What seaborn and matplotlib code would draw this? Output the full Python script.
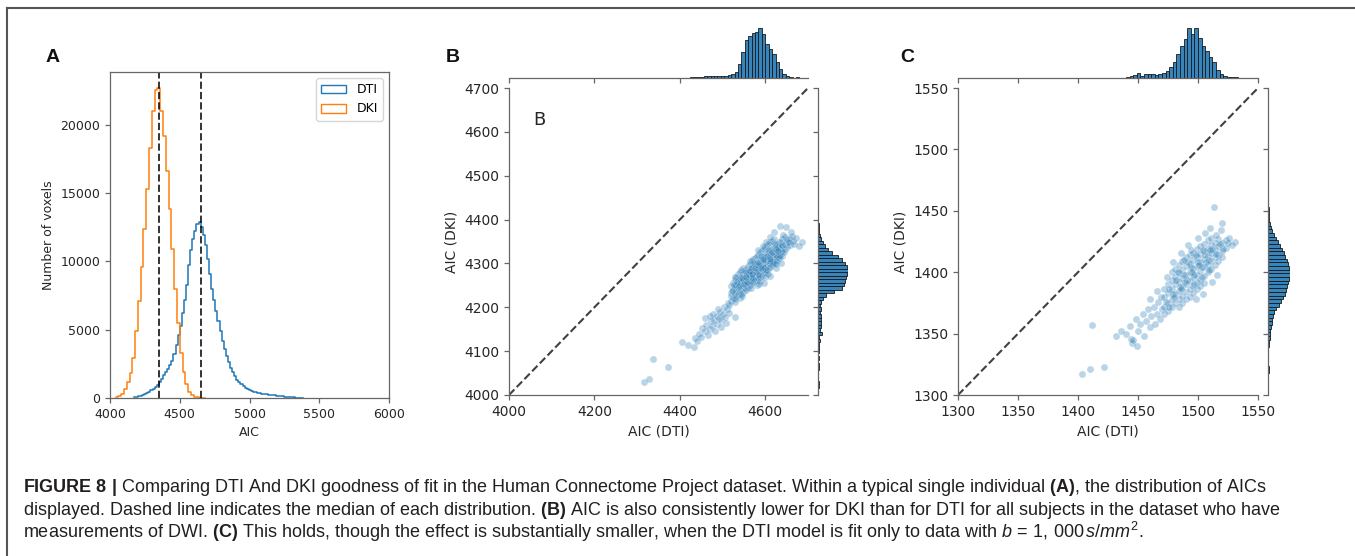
import numpy as np
import pandas as pd
import matplotlib
matplotlib.use("Agg")
import matplotlib.pyplot as plt
from matplotlib.lines import Line2D
from matplotlib.patches import Patch
import seaborn as sns

W, H = 1355, 556

# ---- panel A: voxel-wise AIC histograms (first bin edge, bin width, counts)
a_dti_start, a_dti_width = 4170, 15
a_dti_counts = [40, 70, 110, 160, 230, 300, 380, 470, 570, 660,
                800, 980, 1200, 1400, 1650, 1900, 2150, 2400, 2700, 3200,
                3900, 4600, 5300, 6200, 7200, 8300, 9700, 10800, 11600, 12200,
                12700, 12900, 12500, 11900, 11200, 10200, 9100, 8000, 7200, 6400,
                5600, 4900, 4200, 3600, 3100, 2600, 2200, 1900, 1600, 1350,
                1150, 1000, 860, 740, 650, 570, 510, 460, 420, 380,
                350, 320, 290, 270, 250, 230, 210, 190, 170, 150,
                130, 110, 90, 75, 60, 50, 40, 30, 20, 12,
                6]
a_dki_start, a_dki_width = 4040, 20
a_dki_counts = [40, 120, 300, 650, 1200, 1800, 2900, 4900, 7100, 9600,
                12400, 15300, 18300, 21000, 22500, 22700, 21000, 19200, 16600, 13800,
                10900, 8000, 5500, 3300, 1900, 1000, 450, 200, 90, 40,
                20, 8]
a_medians = [4650, 4350]  # DTI, DKI
a_xticks = [4000, 4500, 5000, 5500, 6000]
a_yticks = [0, 5000, 10000, 15000, 20000]

# ---- panel B: per-subject AIC (DTI, DKI)
b_points = [
    (4317, 4029), (4328, 4036), (4338, 4082), (4373, 4063),
    (4405, 4120), (4418, 4114), (4432, 4110), (4436, 4131), (4440, 4122),
    (4445, 4140), (4450, 4133), (4452, 4152), (4458, 4145), (4462, 4160),
    (4465, 4137), (4470, 4150), (4472, 4168), (4476, 4158), (4480, 4172),
    (4483, 4145), (4486, 4180), (4488, 4163), (4492, 4175), (4495, 4190),
    (4497, 4170), (4500, 4185), (4503, 4200), (4505, 4178), (4508, 4165),
    (4510, 4195), (4512, 4210), (4515, 4188), (4497, 4155), (4460, 4175),
    (4478, 4185), (4529, 4177), (4516, 4205), (4490, 4195), (4470, 4180),
    (4520, 4215), (4520, 4232), (4520, 4248), (4520, 4226),
    (4524, 4240), (4524, 4222), (4524, 4255),
    (4528, 4230), (4528, 4245), (4528, 4262), (4528, 4212),
    (4532, 4238), (4532, 4251), (4532, 4225), (4532, 4268),
    (4536, 4243), (4536, 4260), (4536, 4230), (4536, 4275),
    (4540, 4250), (4540, 4236), (4540, 4266), (4540, 4222), (4540, 4281),
    (4544, 4255), (4544, 4242), (4544, 4270), (4544, 4262),
    (4548, 4248), (4548, 4262), (4548, 4276), (4548, 4235), (4548, 4290),
    (4552, 4258), (4552, 4270), (4552, 4245), (4552, 4283),
    (4556, 4262), (4556, 4275), (4556, 4250), (4556, 4288), (4556, 4240),
    (4560, 4268), (4560, 4255), (4560, 4281), (4560, 4294), (4560, 4245),
    (4564, 4272), (4564, 4260), (4564, 4286), (4564, 4298), (4564, 4250),
    (4568, 4276), (4568, 4262), (4568, 4290), (4568, 4305), (4568, 4255),
    (4572, 4280), (4572, 4268), (4572, 4293), (4572, 4258), (4572, 4310),
    (4576, 4284), (4576, 4270), (4576, 4298), (4576, 4262), (4576, 4312),
    (4580, 4288), (4580, 4275), (4580, 4300), (4580, 4262), (4580, 4318), (4580, 4250),
    (4584, 4290), (4584, 4278), (4584, 4304), (4584, 4266), (4584, 4320),
    (4588, 4294), (4588, 4282), (4588, 4308), (4588, 4270), (4588, 4325), (4588, 4260),
    (4592, 4298), (4592, 4285), (4592, 4312), (4592, 4272), (4592, 4328),
    (4596, 4302), (4596, 4290), (4596, 4315), (4596, 4278), (4596, 4332),
    (4600, 4305), (4600, 4292), (4600, 4318), (4600, 4280), (4600, 4338), (4600, 4268),
    (4604, 4308), (4604, 4296), (4604, 4322), (4604, 4285), (4604, 4342),
    (4608, 4312), (4608, 4300), (4608, 4326), (4608, 4290), (4608, 4345),
    (4612, 4315), (4612, 4302), (4612, 4330), (4612, 4292), (4612, 4348),
    (4616, 4318), (4616, 4306), (4616, 4332), (4616, 4296), (4616, 4352),
    (4620, 4322), (4620, 4310), (4620, 4336), (4620, 4300), (4620, 4356),
    (4624, 4326), (4624, 4312), (4624, 4340), (4624, 4305),
    (4628, 4330), (4628, 4316), (4628, 4345), (4628, 4308),
    (4632, 4332), (4632, 4320), (4632, 4348), (4632, 4312),
    (4636, 4336), (4636, 4325), (4636, 4350),
    (4640, 4340), (4640, 4328), (4640, 4355), (4640, 4318),
    (4646, 4345), (4646, 4332), (4646, 4360),
    (4652, 4350), (4652, 4338), (4658, 4355), (4658, 4342),
    (4665, 4352), (4685, 4350),
    (4634, 4385), (4648, 4383), (4660, 4372), (4620, 4372), (4642, 4365),
    (4612, 4272), (4625, 4290), (4598, 4255), (4636, 4300),
    (4522, 4236), (4526, 4250), (4530, 4220), (4534, 4258), (4538, 4248),
    (4542, 4230), (4546, 4266), (4550, 4252), (4554, 4280), (4558, 4258),
    (4562, 4276), (4566, 4290), (4570, 4266), (4574, 4302), (4578, 4280),
    (4582, 4296), (4586, 4274), (4590, 4316), (4594, 4292), (4598, 4308),
    (4602, 4286), (4606, 4330), (4610, 4306), (4614, 4322), (4618, 4300),
    (4622, 4344), (4626, 4320), (4630, 4338), (4634, 4316), (4638, 4342),
    (4644, 4325), (4650, 4356), (4656, 4348), (4662, 4362), (4668, 4345),
    (4672, 4358), (4678, 4340),
    (4555, 4268), (4565, 4282), (4575, 4290), (4585, 4300), (4595, 4310),
    (4605, 4316), (4615, 4326), (4625, 4334), (4570, 4275), (4590, 4290),
    (4610, 4310), (4630, 4328), (4566, 4245), (4586, 4254), (4606, 4276),
    (4626, 4298), (4546, 4226), (4602, 4350), (4584, 4330), (4564, 4306),
    (4544, 4285), (4528, 4270), (4610, 4360), (4594, 4340),
]
b_top_start, b_top_width = 4400, 8
b_top_counts = [0.3, 0, 0, 0.7, 1, 1, 1.3, 2, 2.3, 2.3,
                2.3, 2, 1.7, 2, 2.7, 4, 6, 14, 26, 38,
                42, 45, 46, 50, 44, 34, 29, 24, 16, 9,
                4, 1.7, 1, 0.3, 0.7, 0.3, 0]
b_right_start, b_right_width = 4016, 8
b_right_counts = [0.5, 0.5, 0, 0, 0, 0.5, 0.5, 0, 0.5, 0,
                  0.5, 0.5, 1, 1.5, 1, 4, 2, 2.5, 3, 2.5,
                  3, 1.5, 3, 1.5, 3, 5, 8, 16, 24, 26,
                  27, 28, 29, 30, 29, 27, 24, 20, 14, 10,
                  7, 5, 3, 2, 1, 0.5, 0.5]
b_lims = [4000, 4700]
b_xticks = [4000, 4200, 4400, 4600]
b_yticks = [4000, 4100, 4200, 4300, 4400, 4500, 4600, 4700]

# ---- panel C: per-subject AIC, DTI fit to b=1000 only
c_points = [
    (1403, 1317), (1410, 1321), (1422, 1323), (1412, 1357), (1432, 1348),
    (1445, 1342), (1444, 1346), (1513, 1453), (1520, 1440), (1531, 1425),
    (1528, 1422),
    (1440, 1350), (1443, 1356), (1446, 1345), (1448, 1362), (1450, 1352),
    (1452, 1358), (1454, 1366), (1455, 1348), (1457, 1360), (1458, 1370),
    (1460, 1355), (1461, 1364), (1463, 1372), (1464, 1358), (1466, 1366),
    (1467, 1376), (1468, 1362), (1469, 1380), (1470, 1370), (1436, 1352),
    (1449, 1340),
    (1472, 1372), (1472, 1380), (1472, 1386), (1472, 1366),
    (1475, 1375), (1475, 1383), (1475, 1390), (1475, 1368),
    (1478, 1378), (1478, 1386), (1478, 1394), (1478, 1372), (1478, 1400),
    (1481, 1382), (1481, 1390), (1481, 1396), (1481, 1375), (1481, 1403),
    (1484, 1385), (1484, 1392), (1484, 1399), (1484, 1378), (1484, 1406), (1484, 1372),
    (1487, 1388), (1487, 1395), (1487, 1402), (1487, 1381), (1487, 1409), (1487, 1375),
    (1490, 1390), (1490, 1398), (1490, 1405), (1490, 1384), (1490, 1412), (1490, 1378),
    (1493, 1393), (1493, 1400), (1493, 1407), (1493, 1386), (1493, 1414), (1493, 1380),
    (1496, 1396), (1496, 1403), (1496, 1410), (1496, 1389), (1496, 1416), (1496, 1383),
    (1499, 1398), (1499, 1405), (1499, 1412), (1499, 1392), (1499, 1419), (1499, 1386),
    (1502, 1401), (1502, 1408), (1502, 1415), (1502, 1394), (1502, 1421), (1502, 1389),
    (1505, 1404), (1505, 1411), (1505, 1417), (1505, 1397), (1505, 1423), (1505, 1391),
    (1508, 1406), (1508, 1413), (1508, 1419), (1508, 1400), (1508, 1426),
    (1511, 1409), (1511, 1416), (1511, 1422), (1511, 1403), (1511, 1428),
    (1514, 1412), (1514, 1418), (1514, 1424), (1514, 1406),
    (1517, 1414), (1517, 1421), (1517, 1427), (1517, 1409),
    (1520, 1417), (1520, 1424), (1520, 1412),
    (1523, 1420), (1523, 1426),
    (1479, 1408), (1486, 1416), (1492, 1422), (1500, 1428), (1506, 1432),
    (1510, 1436), (1498, 1378), (1504, 1382), (1512, 1392), (1516, 1398),
    (1474, 1396), (1466, 1385), (1460, 1378),
    (1473, 1376), (1476, 1386), (1479, 1382), (1482, 1394), (1485, 1388),
    (1488, 1398), (1491, 1394), (1494, 1404), (1497, 1398), (1500, 1408),
    (1503, 1404), (1506, 1414), (1509, 1410), (1512, 1419), (1515, 1415),
    (1518, 1423), (1521, 1419), (1525, 1424),
    (1489, 1392), (1495, 1400), (1501, 1406), (1507, 1408), (1492, 1408),
    (1498, 1414), (1504, 1418), (1486, 1386), (1480, 1380), (1510, 1418),
    (1497, 1390), (1503, 1396), (1509, 1402), (1488, 1410), (1494, 1418),
    (1483, 1400), (1476, 1372), (1515, 1430), (1519, 1434), (1526, 1428),
]
c_top_start, c_top_width = 1440, 3
c_top_counts = [1.0, 1.7, 2.7, 5, 2.3, 4, 4, 3.7, 3.3, 4,
                4.7, 7, 11, 16, 24, 31, 38, 49, 43, 49,
                39, 31, 26, 21, 16, 8, 4, 2, 1, 0.7,
                1.3, 0]
c_right_start, c_right_width = 1318, 3
c_right_counts = [0.5, 0.5, 0, 0, 0, 0, 0, 0.5, 1, 1.5,
                  2, 2, 3, 4, 4, 5, 6, 8, 11, 13,
                  15, 17, 18, 19, 20, 21, 22, 22, 21, 20,
                  19, 17, 16, 14, 12, 10, 8, 6, 4, 3,
                  1.5, 1, 1, 0.5, 0.5]
c_lims = [1300, 1550]
c_ticks = [1300, 1350, 1400, 1450, 1500, 1550]

caption = [
    r"$\mathbf{FIGURE\ 8\ |}$ Comparing DTI And DKI goodness of fit in the Human Connectome Project dataset. "
    r"Within a typical single individual $\mathbf{(A)}$, the distribution of AICs",
    r"displayed. Dashed line indicates the median of each distribution. $\mathbf{(B)}$ AIC is also consistently "
    r"lower for DKI than for DTI for all subjects in the dataset who have",
    r"measurements of DWI. $\mathbf{(C)}$ This holds, though the effect is substantially smaller, when the DTI "
    r"model is fit only to data with $b\,=\,1,\,000\,s/mm^2$.",
]

plt.rcParams['mathtext.fontset'] = 'custom'
plt.rcParams['mathtext.rm'] = 'Liberation Sans'
plt.rcParams['mathtext.bf'] = 'Liberation Sans:bold'
plt.rcParams['mathtext.it'] = 'Liberation Sans:italic'

TXT = '#262626'
SPINE = '#666666'
BLUE = sns.color_palette()[0]
ORANGE = sns.color_palette()[1]

fig = plt.figure(figsize=(W / 100, H / 100), dpi=100)


def px_axes(x0, y0, x1, y1):
    return fig.add_axes([x0 / W, 1 - y1 / H, (x1 - x0) / W, (y1 - y0) / H])


def hist_counts(ax, start, width, counts, vertical=False, **kw):
    counts = np.asarray(counts, dtype=float)
    edges = start + width * np.arange(len(counts) + 1)
    df = pd.DataFrame({'aic': edges[:-1] + width / 2, 'n': counts})
    edges = [float(e) for e in edges]
    if vertical:
        sns.histplot(data=df, y='aic', weights='n', bins=edges, ax=ax, **kw)
    else:
        sns.histplot(data=df, x='aic', weights='n', bins=edges, ax=ax, **kw)


def style_axes(ax, size):
    ax.tick_params(labelsize=size, colors=TXT, color=SPINE, width=0.9)
    for s in ax.spines.values():
        s.set_color(SPINE)
        s.set_linewidth(0.9)


# ---------------- A
axA = px_axes(110, 72, 389, 398)
hist_counts(axA, a_dti_start, a_dti_width, a_dti_counts,
            element='step', fill=False, color=BLUE, linewidth=1.1)
hist_counts(axA, a_dki_start, a_dki_width, a_dki_counts,
            element='step', fill=False, color=ORANGE, linewidth=1.1)
for m in a_medians:
    axA.axvline(m, color='k', ls='--', lw=1.4, alpha=0.8)
axA.set_xlim(4000, 6000)
axA.set_ylim(0, 23850)
axA.set_xticks(a_xticks)
axA.set_yticks(a_yticks)
axA.set_xlabel('AIC', fontsize=9, color=TXT)
axA.set_ylabel('Number of voxels', fontsize=9, color=TXT)
style_axes(axA, 9)
axA.legend(handles=[Patch(facecolor='none', edgecolor=BLUE, label='DTI'),
                    Patch(facecolor='none', edgecolor=ORANGE, label='DKI')],
           loc='upper right', fontsize=9)


def joint_panel(main_box, top_box, right_box, points, lims, xticks, yticks,
                top, right):
    ax = px_axes(*main_box)
    df = pd.DataFrame(points, columns=['dti', 'dki'])
    ax.plot(lims, lims, ls='--', color='k', lw=1.5, alpha=0.75)
    sns.scatterplot(data=df, x='dti', y='dki', ax=ax, s=26, alpha=0.3,
                    color=BLUE, edgecolor='white', linewidth=0.5)
    ax.set_xlim(lims)
    ax.set_ylim(lims)
    ax.set_xticks(xticks)
    ax.set_yticks(yticks)
    ax.set_xlabel('AIC (DTI)', fontsize=10, color=TXT)
    ax.set_ylabel('AIC (DKI)', fontsize=10, color=TXT)
    style_axes(ax, 10)
    sns.despine(ax=ax)

    bar_kw = dict(color=BLUE, alpha=0.9, edgecolor='#1a1a1a', linewidth=0.6)
    axt = px_axes(*top_box)
    hist_counts(axt, *top, **bar_kw)
    axt.set_xlim(lims)
    axt.set_ylim(0, max(top[2]))
    axt.set_xticks(xticks)
    axt.set_xticklabels([])
    axt.set_yticks([])
    axt.set_xlabel('')
    axt.set_ylabel('')
    style_axes(axt, 10)
    sns.despine(ax=axt, left=True)

    axr = px_axes(*right_box)
    hist_counts(axr, *right, vertical=True, **bar_kw)
    axr.set_ylim(lims)
    axr.set_xlim(0, max(right[2]))
    axr.set_yticks(yticks)
    axr.set_yticklabels([])
    axr.set_xticks([])
    axr.set_xlabel('')
    axr.set_ylabel('')
    style_axes(axr, 10)
    sns.despine(ax=axr, bottom=True)
    return ax


axB = joint_panel((509, 88, 808, 395), (509, 28, 808, 78), (818, 88, 848, 395),
                  b_points, b_lims, b_xticks, b_yticks,
                  (b_top_start, b_top_width, b_top_counts),
                  (b_right_start, b_right_width, b_right_counts))
axB.text(4056, 4616, 'B', fontsize=13, color=TXT, ha='left', va='baseline')

axC = joint_panel((958, 88, 1258, 395), (958, 28, 1258, 78), (1268, 88, 1290, 395),
                  c_points, c_lims, c_ticks, c_ticks,
                  (c_top_start, c_top_width, c_top_counts),
                  (c_right_start, c_right_width, c_right_counts))

# panel letters
for lab, x in [('A', 46), ('B', 446), ('C', 900)]:
    fig.text(x / W, 1 - 61.5 / H, lab, fontsize=14, fontweight='bold',
             family='Liberation Sans', va='baseline', color='#111111')

# caption
for line, base in zip(caption, [492, 515, 538]):
    fig.text(23 / W, 1 - base / H, line, fontsize=13, family='Liberation Sans',
             color='#231f20', va='baseline')

# frame of the figure box
fig.add_artist(Line2D([7 / W, 1], [1 - 8 / H, 1 - 8 / H], color='#555555', lw=1.5))
fig.add_artist(Line2D([7 / W, 7 / W], [0, 1 - 8 / H], color='#555555', lw=1.5))

fig.savefig('out.png', dpi=100, facecolor='white')
